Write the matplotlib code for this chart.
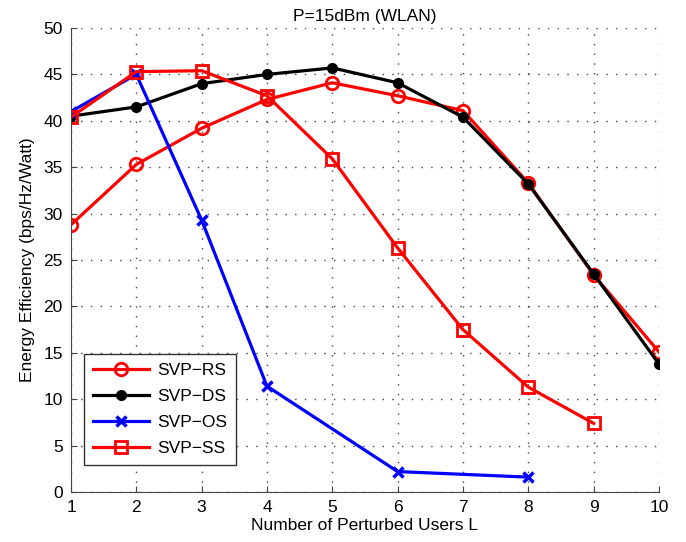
import matplotlib
matplotlib.use('Agg')
import matplotlib.pyplot as plt

plt.rcParams['font.family'] = ['Liberation Sans', 'DejaVu Sans']

users = [1, 2, 3, 4, 5, 6, 7, 8, 9, 10]
ee_rs = [28.8, 35.3, 39.2, 42.3, 44.1, 42.7, 41.1, 33.3, 23.4, 15.1]
ee_ds = [40.5, 41.5, 44.0, 45.0, 45.7, 44.1, 40.4, 33.2, 23.5, 13.8]
users_os = [1, 2, 3, 4, 6, 8]
ee_os = [41.0, 45.0, 29.3, 11.4, 2.2, 1.6]
users_ss = [1, 2, 3, 4, 5, 6, 7, 8, 9]
ee_ss = [40.4, 45.3, 45.4, 42.7, 35.9, 26.3, 17.5, 11.3, 7.4]

fig = plt.figure(figsize=(6.86, 5.42), dpi=100)
ax = fig.add_axes([0.1035, 0.0923, 0.857, 0.856])

lw = 2.3
ax.plot(users, ee_rs, color='red', lw=lw, marker='o', ms=9, mfc='none',
        mew=2, label='SVP\u2212RS')
ax.plot(users, ee_ds, color='black', lw=lw, marker='o', ms=7,
        label='SVP\u2212DS')
ax.plot(users_os, ee_os, color='blue', lw=lw, marker='x', ms=7, mew=2.5,
        label='SVP\u2212OS')
ax.plot(users_ss, ee_ss, color='red', lw=lw, marker='s', ms=9, mfc='none',
        mew=2, label='SVP\u2212SS')

ax.set_xlim(1, 10)
ax.set_ylim(0, 50)
ax.set_xticks(range(1, 11))
ax.set_yticks(range(0, 51, 5))
ax.grid(True, ls=(0, (1, 6)), color='#444444', lw=1)
ax.tick_params(labelsize=12.5, direction='in', length=4, color='#444444',
               pad=6)
ax.spines['top'].set_visible(False)
ax.spines['right'].set_visible(False)
for s in ('left', 'bottom'):
    ax.spines[s].set_color('#444444')

ax.set_title('P=15dBm (WLAN)', fontsize=12.5, pad=5)
ax.set_xlabel('Number of Perturbed Users L', fontsize=12.5, labelpad=2)
ax.set_ylabel('Energy Efficiency (bps/Hz/Watt)', fontsize=12.5, labelpad=6)

leg = ax.legend(loc='lower left', bbox_to_anchor=(0.008, 0.04), fontsize=12.5,
                fancybox=False, edgecolor='#333333', framealpha=1,
                handlelength=3.2, borderpad=0.5, labelspacing=0.62,
                handletextpad=0.5)
leg.get_frame().set_linewidth(1)

fig.savefig('out.png', dpi=100)
